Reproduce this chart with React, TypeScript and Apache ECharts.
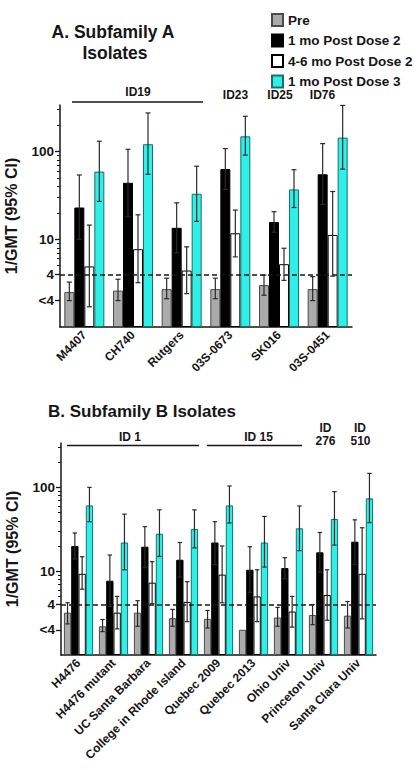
import React, { useEffect, useRef } from "react";
import * as echarts from "echarts";

// Titer groups shown in both panels
const SERIES_NAMES = ["Pre", "1 mo Post Dose 2", "4-6 mo Post Dose 2", "1 mo Post Dose 3"];

// Panel A: subfamily A isolates (GMT with 95% CI)
const isolatesA = ["M4407", "CH740", "Rutgers", "03S-0673", "SK016", "03S-0451"];
const preA = [2.5, 2.6, 2.7, 2.7, 3.0, 2.7];
const preALo = [2.0, 2.0, 2.1, 2.1, 2.3, 2.0];
const preAHi = [3.25, 3.5, 3.6, 3.6, 3.9, 3.75];
const pd2A = [23, 44, 13.5, 63, 15.7, 55];
const pd2ALo = [10, 18, 7, 37, 12, 25];
const pd2AHi = [54, 106, 26, 108, 20.6, 123];
const late2A = [4.9, 7.7, 4.4, 11.7, 5.2, 11.2];
const late2ALo = [1.7, 3.2, 2.4, 6.3, 3.4, 3.8];
const late2AHi = [14.5, 19, 8.2, 21.5, 7.9, 35];
const pd3A = [59, 121, 33, 149, 37, 144];
const pd3ALo = [27, 55, 16, 91, 23, 63];
const pd3AHi = [131, 275, 68, 252, 62, 335];

// Panel B: subfamily B isolates
const isolatesB = [
  "H4476",
  "H4476 mutant",
  "UC Santa Barbara",
  "College in Rhode Island",
  "Quebec 2009",
  "Quebec 2013",
  "Ohio Univ",
  "Princeton Univ",
  "Santa Clara Univ",
];
const preB = [3.2, 2.2, 3.2, 2.75, 2.7, 2.0, 2.8, 3.0, 2.95];
const preBLo = [2.35, 1.9, 2.2, 2.2, 2.1, 2.0, 2.2, 2.3, 2.1];
const preBHi = [4.2, 2.65, 4.45, 3.5, 3.4, 2.0, 3.7, 4.0, 4.35];
const pd2B = [20, 7.7, 19.6, 13.7, 22, 10.4, 10.9, 16.8, 22.5];
const pd2BLo = [14, 3.8, 11, 8.5, 12, 5.6, 8.1, 9.7, 12];
const pd2BHi = [28.6, 15.6, 34, 22, 39, 19.6, 14.5, 29, 41];
const late2B = [9.3, 3.2, 7.3, 4.3, 9.1, 5.0, 3.3, 5.2, 9.3];
const late2BLo = [6.1, 2.05, 4.1, 2.5, 4.2, 2.5, 2.15, 2.6, 2.7];
const late2BHi = [14.9, 5.0, 13, 7.5, 20, 10.4, 5.0, 10.4, 33];
const pd3B = [61, 22, 28, 32, 61, 22, 32.5, 42, 74];
const pd3BLo = [39, 10.4, 15, 19, 37.6, 11.2, 17.6, 20.5, 38];
const pd3BHi = [100, 48, 54, 54, 104, 45, 60, 89, 147];

// Y axis (log10 scale): labelled ticks and minor ticks
const yTickValues = [2, 4, 10, 100];
const yTickText = ["<4", "4", "10", "100"];
const yMinorValues = [5, 6, 7, 8, 9, 20, 30, 40, 50, 60, 70, 80, 90, 200, 300];
const LOD = 4;
const Y_MAX_LOG = 2.53;

const L = (v: number) => Math.log10(v);
const FONT = "'Liberation Sans', Arial, Helvetica, sans-serif";
const INK = "#161616";

const BAR_STYLES = [
  { color: "#ABABAB", borderColor: "#4a4a4a", borderWidth: 1 },
  { color: "#000000", borderColor: "#000000", borderWidth: 1 },
  { color: "#FFFFFF", borderColor: "#000000", borderWidth: 1 },
  { color: "#2EF0E8", borderColor: "#1c6e6a", borderWidth: 1 },
];

type Panel = {
  cats: string[];
  vals: number[][];
  lo: number[][];
  hi: number[][];
  barW: number;
  cap: number;
};

const panels: Panel[] = [
  {
    cats: isolatesA,
    vals: [preA, pd2A, late2A, pd3A],
    lo: [preALo, pd2ALo, late2ALo, pd3ALo],
    hi: [preAHi, pd2AHi, late2AHi, pd3AHi],
    barW: 10,
    cap: 2.5,
  },
  {
    cats: isolatesB,
    vals: [preB, pd2B, late2B, pd3B],
    lo: [preBLo, pd2BLo, late2BLo, pd3BLo],
    hi: [preBHi, pd2BHi, late2BHi, pd3BHi],
    barW: 7.3,
    cap: 2.2,
  },
];

const txt = (text: string, x: number, y: number, size: number, align = "center") => ({
  type: "text",
  x,
  y,
  z: 10,
  style: {
    text,
    fill: INK,
    font: `bold ${size}px ${FONT}`,
    align,
    verticalAlign: "middle",
  },
});
const rule = (x1: number, x2: number, y: number) => ({
  type: "line",
  z: 10,
  shape: { x1, y1: y, x2, y2: y },
  style: { stroke: INK, lineWidth: 1.6 },
});

// titles and strain-group annotations
const graphic = [
  txt("A. Subfamily A", 113, 32, 17.5),
  txt("Isolates", 115, 53, 17.5),
  txt("B. Subfamily B Isolates", 48, 411, 17, "left"),
  txt("ID19", 138, 92, 12),
  rule(72, 203, 102),
  txt("ID23", 235.5, 95, 12),
  txt("ID25", 280, 95, 12),
  txt("ID76", 322.5, 95, 12),
  txt("ID 1", 130, 437, 12),
  rule(67, 199, 445.5),
  txt("ID 15", 258.5, 437, 12),
  rule(207, 302, 445.5),
  txt("ID", 325.5, 427.5, 12),
  txt("276", 325.5, 440.5, 12),
  txt("ID", 360, 427.5, 12),
  txt("510", 360.5, 440.5, 12),
];

function buildOption() {
  const grids = [
    { left: 60, top: 105, width: 292, height: 222, outerBoundsMode: "none" },
    { left: 61, top: 443, width: 315, height: 212, outerBoundsMode: "none" },
  ];

  const xAxes: any[] = [];
  const yAxes: any[] = [];
  const series: any[] = [];

  panels.forEach((p, pi) => {
    xAxes.push({
      type: "category",
      gridIndex: pi,
      data: p.cats,
      axisLine: { lineStyle: { color: INK, width: 1.5 } },
      axisTick: { alignWithLabel: true, length: 4, lineStyle: { color: INK, width: 1.3 } },
      axisLabel: {
        interval: 0,
        rotate: 45,
        margin: 6,
        color: INK,
        fontFamily: FONT,
        fontWeight: "bold",
        fontSize: 12,
      },
    });
    yAxes.push({
      type: "value",
      gridIndex: pi,
      position: "left",
      min: 0,
      max: Y_MAX_LOG,
      name: "1/GMT (95% CI)",
      nameLocation: "middle",
      nameGap: 41,
      nameRotate: 90,
      nameTextStyle: { color: INK, fontFamily: FONT, fontWeight: "bold", fontSize: 16 },
      splitLine: { show: false },
      axisLine: { show: true, lineStyle: { color: INK, width: 1.5 } },
      axisTick: {
        show: true,
        length: 5,
        customValues: yTickValues.map(L),
        lineStyle: { color: INK, width: 1.3 },
      },
      axisLabel: {
        customValues: yTickValues.map(L),
        margin: 6,
        color: INK,
        fontFamily: FONT,
        fontWeight: "bold",
        fontSize: 13.5,
        formatter: (v: number) => {
          const i = yTickValues.findIndex((t) => Math.abs(L(t) - v) < 1e-6);
          return i >= 0 ? yTickText[i] : "";
        },
      },
    });
    // companion axis carrying the minor log ticks
    yAxes.push({
      type: "value",
      gridIndex: pi,
      position: "left",
      offset: 0,
      min: 0,
      max: Y_MAX_LOG,
      splitLine: { show: false },
      axisLine: { show: false },
      axisLabel: { show: false },
      axisTick: {
        show: true,
        length: 3,
        customValues: yMinorValues.map(L),
        lineStyle: { color: INK, width: 1 },
      },
    });

    p.vals.forEach((vals, si) => {
      series.push({
        type: "bar",
        name: SERIES_NAMES[si],
        xAxisIndex: pi,
        yAxisIndex: pi * 2,
        barWidth: p.barW,
        barGap: "0%",
        itemStyle: BAR_STYLES[si],
        data: vals.map(L),
      });
    });

    const errData: number[][] = [];
    p.vals.forEach((vals, si) => {
      vals.forEach((_, ci) => {
        errData.push([ci, L(p.lo[si][ci]), L(p.hi[si][ci]), si]);
      });
    });

    series.push({
      type: "custom",
      name: "ci" + pi,
      xAxisIndex: pi,
      yAxisIndex: pi * 2,
      z: 5,
      encode: { x: 0, y: [1, 2] },
      data: errData,
      renderItem: (_params: any, api: any) => {
        const ci = api.value(0);
        const lo = api.value(1);
        const hi = api.value(2);
        const si = api.value(3);
        if (Math.abs(hi - lo) < 1e-9) return { type: "group", children: [] };
        const a = api.coord([ci, lo]);
        const b = api.coord([ci, hi]);
        const x = a[0] + (si - 1.5) * p.barW;
        const st = { stroke: "#2a2a2a", lineWidth: 1.2 };
        return {
          type: "group",
          children: [
            { type: "line", shape: { x1: x, y1: a[1], x2: x, y2: b[1] }, style: st },
            { type: "line", shape: { x1: x - p.cap, y1: b[1], x2: x + p.cap, y2: b[1] }, style: st },
            { type: "line", shape: { x1: x - p.cap, y1: a[1], x2: x + p.cap, y2: a[1] }, style: st },
          ],
        };
      },
      markLine: {
        silent: true,
        symbol: "none",
        label: { show: false },
        lineStyle: { type: [5, 3], color: INK, width: 1.6 },
        data: [{ yAxis: L(LOD) }],
      },
    });
  });

  return {
    animation: false,
    backgroundColor: "#ffffff",
    textStyle: { fontFamily: FONT },
    legend: {
      data: SERIES_NAMES,
      orient: "vertical",
      left: 266,
      top: 8,
      icon: "rect",
      itemWidth: 11,
      itemHeight: 12,
      itemGap: 6.5,
      selectedMode: false,
      textStyle: { color: INK, fontFamily: FONT, fontWeight: "bold", fontSize: 13.5 },
    },
    grid: grids,
    xAxis: xAxes,
    yAxis: yAxes,
    series,
    graphic,
  };
}

export default function App() {
  const ref = useRef<HTMLDivElement>(null);
  useEffect(() => {
    if (!ref.current) return;
    const chart = echarts.init(ref.current, undefined, { renderer: "svg" });
    chart.setOption(buildOption() as any);
    return () => chart.dispose();
  }, []);
  return (
    <div
      ref={ref}
      style={{ position: "fixed", left: 0, top: 0, width: 416, height: 770, background: "#fff" }}
    />
  );
}
